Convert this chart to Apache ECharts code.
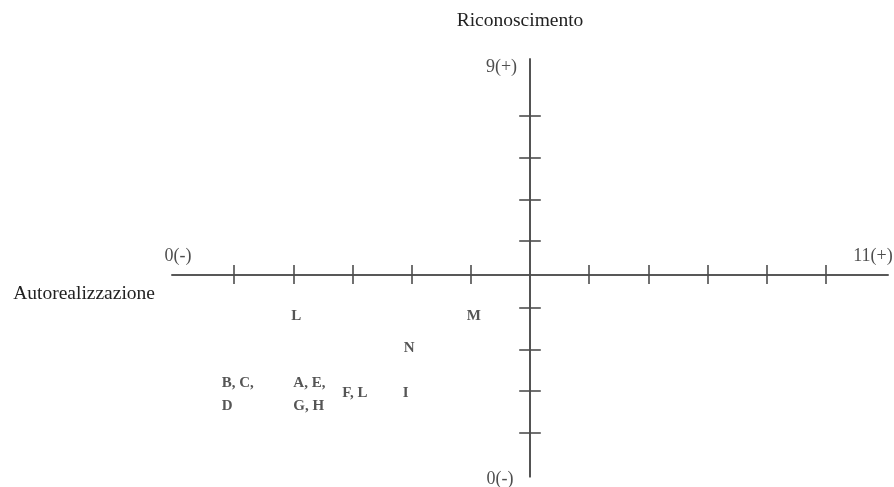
<!DOCTYPE html>
<html>
<head>
<meta charset="utf-8">
<script src="https://cdn.jsdelivr.net/npm/echarts@6/dist/echarts.min.js"></script>
<style>
html,body{margin:0;padding:0;background:#fff;}
#chart{width:894px;height:487px;}
</style>
</head>
<body>
<div id="chart"></div>
<script>
// Axis titles
const xAxisTitle = 'Autorealizzazione';
const yAxisTitle = 'Riconoscimento';
// End labels of the axes: [min end, max end]
const xEndLabels = ['0(-)', '11(+)'];
const yEndLabels = ['0(-)', '9(+)'];
// Axis extents (schematic units, axes crossing at 0)
const xRange = [-6.05, 6.05];
const yRange = [-4.85, 5.17];
// Tick positions
const xTicks = [-5, -4, -3, -2, -1, 1, 2, 3, 4, 5];
const yTicks = [-3.8, -2.8, -1.8, -0.8, 0.8, 1.8, 2.8, 3.8];
// Placed letters
const pointLabels = ['L', 'M', 'N', 'I', 'F, L', 'A, E,\nG, H', 'B, C,\nD'];
const pointX = [-3.95, -0.95, -2.04, -2.1, -2.96, -4.0, -5.21];
const pointY = [-0.99, -0.99, -1.76, -2.84, -2.84, -2.87, -2.87];

const FONT = 'Liberation Serif';
const AXIS_COLOR = '#4d4d4d';
const TEXT_COLOR = '#222222';

const chart = echarts.init(document.getElementById('chart'), null, {renderer: 'canvas'});

const lineStyle = {color: AXIS_COLOR, width: 1.6};

function xAx(pos) {
  return {
    type: 'value', position: pos, min: xRange[0], max: xRange[1],
    axisLine: {show: true, onZero: true, onZeroAxisIndex: 0, lineStyle: lineStyle},
    axisTick: {show: true, customValues: xTicks, length: 9.5, inside: false, lineStyle: lineStyle},
    axisLabel: {show: false},
    splitLine: {show: false},
    name: pos === 'bottom' ? xAxisTitle : '',
    nameLocation: 'start', nameGap: 17,
    nameTextStyle: {fontFamily: FONT, fontSize: 19.5, color: TEXT_COLOR, verticalAlign: 'top', padding: [9, 0, 0, 0]}
  };
}
function yAx(pos) {
  return {
    type: 'value', position: pos, min: yRange[0], max: yRange[1],
    axisLine: {show: true, onZero: true, onZeroAxisIndex: 0, lineStyle: lineStyle},
    axisTick: {show: true, customValues: yTicks, length: 10.8, inside: false, lineStyle: lineStyle},
    axisLabel: {show: false},
    splitLine: {show: false},
    name: pos === 'left' ? yAxisTitle : '',
    nameLocation: 'end', nameGap: 28,
    nameTextStyle: {fontFamily: FONT, fontSize: 19.5, color: TEXT_COLOR, padding: [0, 20, 0, 0]}
  };
}

const pointData = pointLabels.map((t, i) => ({
  value: [pointX[i], pointY[i]],
  label: {align: t.indexOf('\n') >= 0 ? 'left' : 'center'}
}));

// End-of-axis labels, placed at the axis extremities
const endData = [
  {value: [xRange[0], 0], name: xEndLabels[0], label: {offset: [6, -18.5]}},
  {value: [xRange[1], 0], name: xEndLabels[1], label: {offset: [-15, -18.5]}},
  {value: [0, yRange[1]], name: yEndLabels[1], label: {offset: [-28.5, 8]}},
  {value: [0, yRange[0]], name: yEndLabels[0], label: {offset: [-30, 3]}}
];

chart.setOption({
  animation: false,
  backgroundColor: '#ffffff',
  grid: {left: 172, top: 59, width: 716, height: 417.7, containLabel: false, outerBoundsMode: 'none'},
  xAxis: [xAx('bottom'), xAx('top')],
  yAxis: [yAx('left'), yAx('right')],
  series: [{
    type: 'scatter',
    xAxisIndex: 0, yAxisIndex: 0,
    symbol: 'circle', symbolSize: 1, clip: false,
    itemStyle: {color: 'rgba(0,0,0,0)'},
    label: {
      show: true, position: 'inside',
      formatter: p => pointLabels[p.dataIndex],
      fontFamily: FONT, fontSize: 15, fontWeight: 'bold', color: '#2b2b2b', lineHeight: 23
    },
    emphasis: {disabled: true},
    data: pointData
  }, {
    type: 'scatter',
    xAxisIndex: 0, yAxisIndex: 0,
    symbol: 'circle', symbolSize: 1, clip: false,
    itemStyle: {color: 'rgba(0,0,0,0)'},
    label: {
      show: true, position: 'inside', align: 'center', verticalAlign: 'middle',
      formatter: p => p.name,
      fontFamily: FONT, fontSize: 18, color: TEXT_COLOR
    },
    emphasis: {disabled: true},
    data: endData
  }]
});
</script>
</body>
</html>
